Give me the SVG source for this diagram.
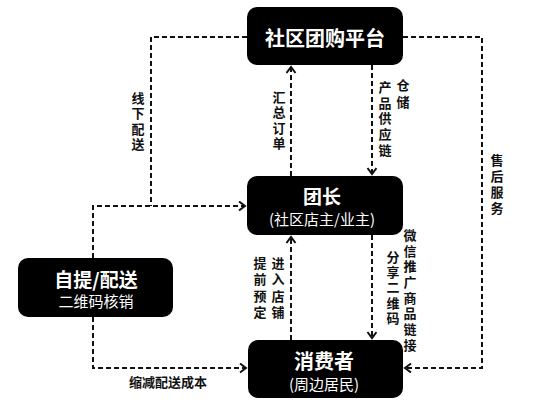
<svg xmlns="http://www.w3.org/2000/svg" width="542" height="404" viewBox="0 0 542 404">
<style>
.node{fill:#000}
.t1{font-family:"Noto Sans CJK SC","Liberation Sans",sans-serif;font-weight:bold;fill:#fff;text-anchor:middle}
.t2{font-family:"Noto Sans CJK SC","Liberation Sans",sans-serif;fill:#fff;text-anchor:middle;font-size:15px}
.lbl{font-family:"Noto Sans CJK SC","Liberation Sans",sans-serif;font-weight:bold;fill:#111;font-size:13px;text-anchor:middle}
.v{font-family:"Noto Sans CJK SC","Liberation Sans",sans-serif;font-weight:bold;fill:#111;font-size:13px;writing-mode:vertical-rl;text-anchor:start}
.c{fill:none;stroke:#111;stroke-width:2;stroke-dasharray:5 3}
</style>
<defs>
<marker id="arr" markerUnits="userSpaceOnUse" markerWidth="12" markerHeight="12" refX="7" refY="5" orient="auto">
<path d="M1,0.5 L7,5 L1,9.5" fill="none" stroke="#111" stroke-width="2"/>
</marker>
</defs>
<rect width="542" height="404" fill="#fff"/>
<g id="connectors">
<path class="c" d="M247,37 H151 V206"/>
<path class="c" d="M93,258 V206 H245" marker-end="url(#arr)"/>
<path class="c" d="M93,317 V368 H246" marker-end="url(#arr)"/>
<path class="c" d="M403,37 H482 V368 H405" marker-end="url(#arr)"/>
<path class="c" d="M291,176 V67" marker-end="url(#arr)"/>
<path class="c" d="M372,65 V174" marker-end="url(#arr)"/>
<path class="c" d="M372,235 V338" marker-end="url(#arr)"/>
<path class="c" d="M291,340 V237" marker-end="url(#arr)"/>
</g>
<g id="labels">
<text class="v" x="138" y="91.5" letter-spacing="2.3">线下配送</text>
<text class="v" x="279" y="90.5" letter-spacing="2.3">汇总订单</text>
<text class="v" x="403" y="78.5" letter-spacing="4">仓储</text>
<text class="v" x="385" y="80.5" letter-spacing="2.75">产品供应链</text>
<text class="v" x="497" y="153.5" letter-spacing="3">售后服务</text>
<text class="v" x="278" y="256.5" letter-spacing="3.3">进入店铺</text>
<text class="v" x="260" y="256.5" letter-spacing="3.3">提前预定</text>
<text class="v" x="393" y="250.5" letter-spacing="2.25">分享二维码</text>
<text class="v" x="410" y="228.5" letter-spacing="2.7">微信推广商品链接</text>
<text class="lbl" x="168" y="387">缩减配送成本</text>
</g>
<g id="platform">
<rect class="node" x="247" y="7" width="156" height="58" rx="10"/>
<text class="t1" x="325" y="46" font-size="20">社区团购平台</text>
</g>
<g id="leader">
<rect class="node" x="247" y="176" width="156" height="59" rx="10"/>
<text class="t1" x="322" y="204" font-size="19">团长</text>
<text class="t2" x="322" y="225">(社区店主/业主)</text>
</g>
<g id="pickup">
<rect class="node" x="18" y="258" width="155" height="59" rx="10"/>
<text class="t1" x="96" y="287" font-size="19">自提/配送</text>
<text class="t2" x="96" y="307">二维码核销</text>
</g>
<g id="consumer">
<rect class="node" x="248" y="340" width="155" height="58" rx="10"/>
<text class="t1" x="324" y="369" font-size="20">消费者</text>
<text class="t2" x="324" y="390">(周边居民)</text>
</g>
</svg>
